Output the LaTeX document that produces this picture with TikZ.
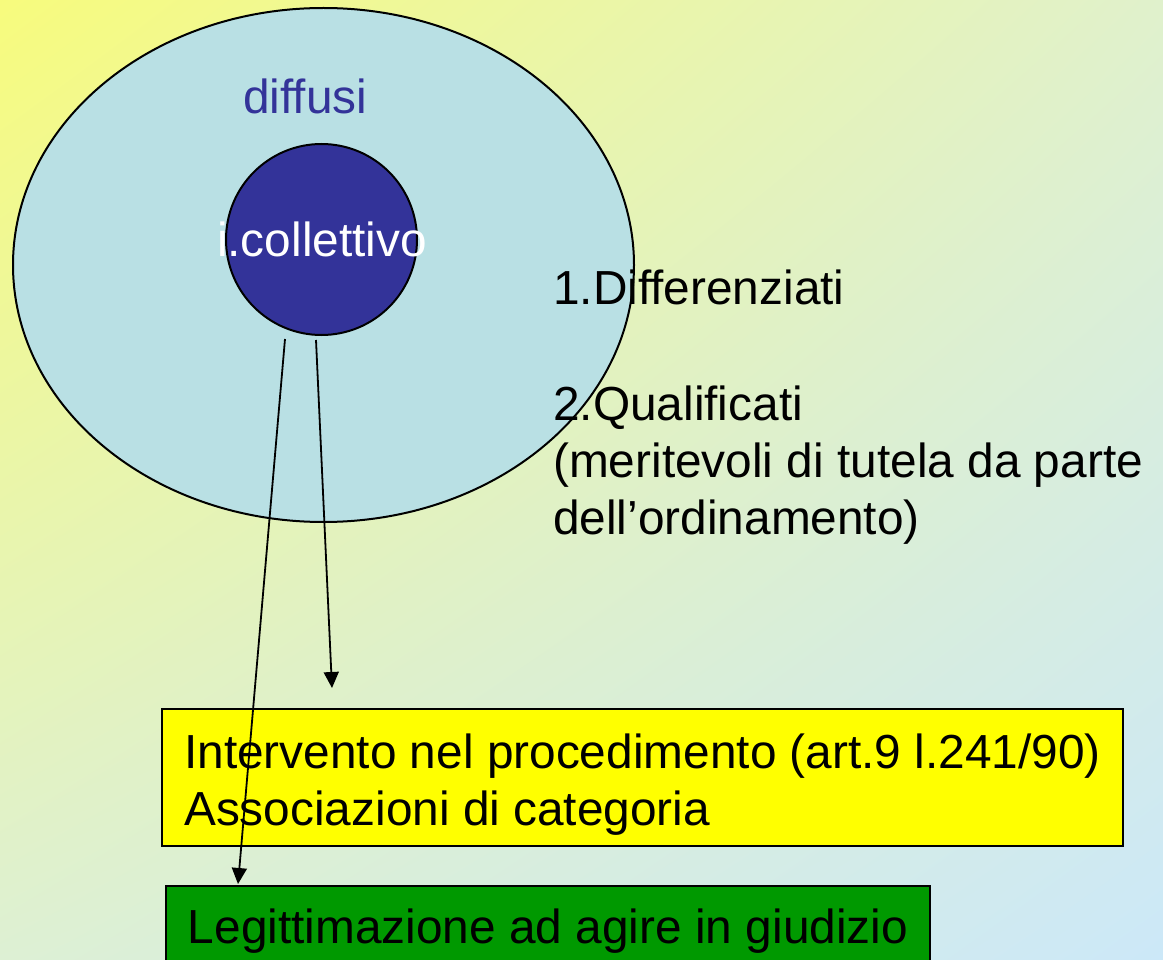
\documentclass[tikz,border=0pt]{standalone}
\usepackage{fontspec}
\setmainfont{Liberation Sans}
\usetikzlibrary{shapes.geometric,arrows.meta,shadings}
\definecolor{bgul}{RGB}{247,251,125}
\definecolor{bgur}{RGB}{224,241,204}
\definecolor{bgll}{RGB}{221,240,212}
\definecolor{bglr}{RGB}{204,232,248}
\definecolor{diffusifill}{RGB}{185,224,228}
\definecolor{collblue}{RGB}{51,51,153}
\definecolor{boxyellow}{RGB}{255,255,0}
\definecolor{boxgreen}{RGB}{0,153,0}

\begin{document}
\begin{tikzpicture}[x=1pt,y=-1pt,
    lbl/.style={font=\fontsize{47.8}{57}\selectfont,inner sep=0pt},
    box/.style={draw,line width=2pt,anchor=north west,align=left,
        font=\fontsize{47.8}{57}\selectfont,inner sep=0pt},
    arr/.style={-{Triangle[length=16pt,width=15pt]},line width=1.8pt}
                   ]

    \useasboundingbox (0,0) rectangle (1163,960);
    \shade[upper left=bgul,upper right=bgur,lower left=bgll,lower right=bglr]
        (0,0) rectangle (1163,960);

    \node[ellipse,draw,line width=2pt,fill=diffusifill,minimum width=621pt,
        minimum height=514pt,inner sep=0pt](diffusi) at (323.5,265){};
    \node[lbl,anchor=base west,text=collblue](diffusilbl) at (243,114){diffusi};
    \node[circle,draw,line width=2pt,fill=collblue,minimum size=191pt,
        inner sep=0pt](coll) at (321.5,239.5){};
    \node[lbl,anchor=base,text=white](colllbl) at (322,257){i.collettivo};

    \node[lbl,anchor=base west](differ) at (553,305){1.Differenziati};
    % base of a multi-line node is the last line
    \node[lbl,anchor=base west,align=left](quali) at (553,534){2.Qualificati\\
        (meritevoli di tutela da parte\\dell’ordinamento)};

    \node[box,fill=boxyellow,minimum width=961pt,minimum height=137pt](interv)
        at (161,708){\rule{0pt}{48pt}Intervento nel procedimento (art.9 l.241/90)\\
        Associazioni di categoria};
    \node[box,fill=boxgreen,minimum width=764pt,minimum height=90pt](legit)
        at (165,885){Legittimazione ad agire in giudizio};

    \coordinate (a1s) at (285,339);
    \coordinate (a1e) at (238,884);
    \coordinate (a2s) at (316,340);
    \coordinate (a2e) at (332,688);
    \path (a1s) edge[arr] (a1e)
    (a2s) edge[arr] (a2e);

\end{tikzpicture}
\end{document}
